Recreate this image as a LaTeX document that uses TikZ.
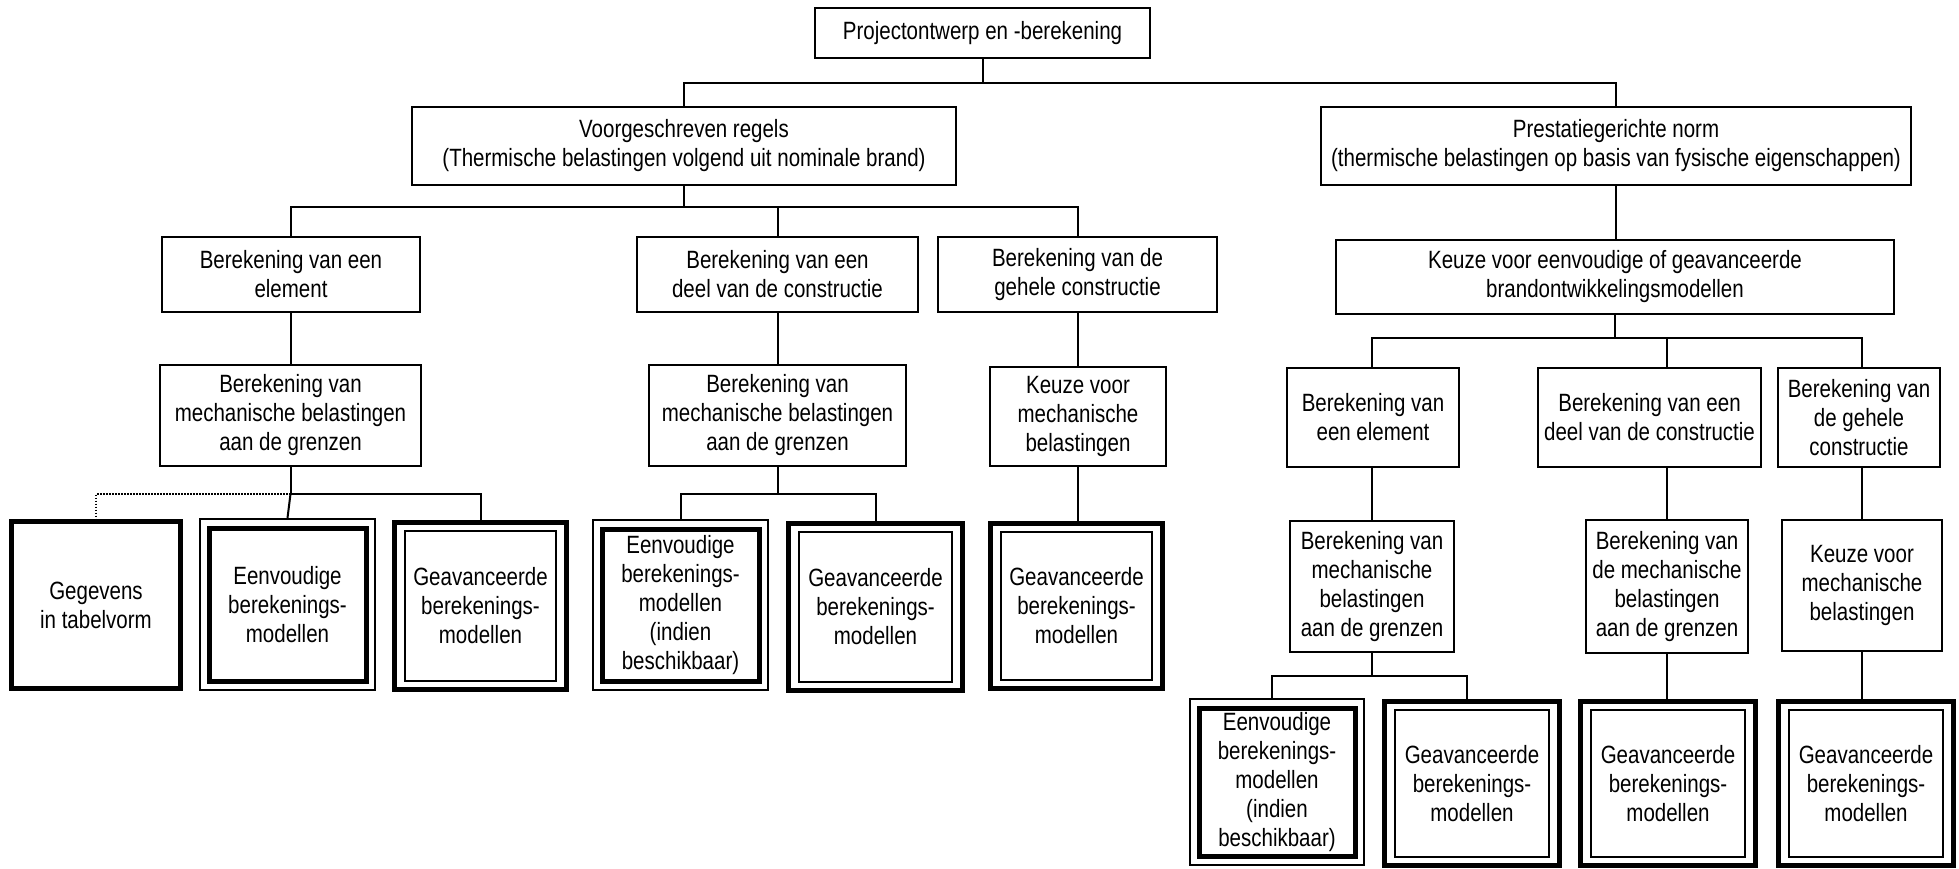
\documentclass[tikz,border=0pt]{standalone}
\usepackage{fontspec}
\setmainfont{Liberation Sans}[FakeStretch=0.82]
\begin{document}
\begin{tikzpicture}[x=1pt,y=-1pt,
  every node/.style={font=\fontsize{25}{29}\selectfont, align=center, inner sep=0pt},
  bb/.style args={#1/#2/#3/#4}{at={({(#1+#3)/2},{(#2+#4)/2})}, minimum width={(#3-#1)*1pt}, minimum height={(#4-#2)*1pt}},
  thinbox/.style={draw, rectangle, line width=2pt},
  heavybox/.style={draw, rectangle, line width=5pt},
  boxA/.style={draw, rectangle, line width=2pt,
    path picture={\draw[line width=5pt] ([shift={(9pt,-9pt)}]path picture bounding box.north west) rectangle ([shift={(-9pt,9pt)}]path picture bounding box.south east);}},
  boxB/.style={draw, rectangle, line width=5pt,
    path picture={\draw[line width=2pt] ([shift={(10.5pt,-8.5pt)}]path picture bounding box.north west) rectangle ([shift={(-10.5pt,8.5pt)}]path picture bounding box.south east);}},
  conn/.style={line width=2pt},
  dotconn/.style={line width=1.5pt, dash pattern=on 1.5pt off 1.5pt}
]
\fill[white] (0,0) rectangle (1959,869);
\useasboundingbox (0,0) rectangle (1959,869);

% top levels
\node[thinbox, bb=815/8/1150/58] (top) {Projectontwerp en -berekening};
\node[thinbox, bb=412/107/956/185] (vg) {Voorgeschreven regels\\(Thermische belastingen volgend uit nominale brand)};
\node[thinbox, bb=1321/107/1911/185] (pg) {Prestatiegerichte norm\\(thermische belastingen op basis van fysische eigenschappen)};

% left branch
\node[thinbox, bb=162/237/420/312] (l3a) {Berekening van een\\element};
\node[thinbox, bb=637/237/918/312] (l3b) {Berekening van een\\deel van de constructie};
\node[thinbox, bb=938/237/1217/312] (l3c) {Berekening van de\\gehele constructie};
\node[thinbox, bb=160/365/421/466] (l4a) {Berekening van\\mechanische belastingen\\aan de grenzen};
\node[thinbox, bb=649/365/906/466] (l4b) {Berekening van\\mechanische belastingen\\aan de grenzen};
\node[thinbox, bb=990/367/1166/466] (l4c) {Keuze voor\\mechanische\\belastingen};
\node[heavybox, bb=11.5/521.5/180.5/688.5] (gg) {Gegevens\\in tabelvorm};
\node[boxA, bb=200/519/375/690] (a1) {Eenvoudige\\berekenings-\\modellen};
\node[boxB, bb=394.5/522.5/566.5/689.5] (b1) {Geavanceerde\\berekenings-\\modellen};
\node[boxA, bb=593/520/768/690] (a2) {Eenvoudige\\berekenings-\\modellen\\(indien\\beschikbaar)};
\node[boxB, bb=788.5/523.5/962.5/690.5] (b2) {Geavanceerde\\berekenings-\\modellen};
\node[boxB, bb=990.5/523.5/1162.5/688.5] (b3) {Geavanceerde\\berekenings-\\modellen};

% right branch
\node[thinbox, bb=1336/240/1894/314] (r2) {Keuze voor eenvoudige of geavanceerde\\brandontwikkelingsmodellen};
\node[thinbox, bb=1287/368/1459/467] (r3a) {Berekening van\\een element};
\node[thinbox, bb=1538/368/1761/467] (r3b) {Berekening van een\\deel van de constructie};
\node[thinbox, bb=1778/368/1940/467] (r3c) {Berekening van\\de gehele\\constructie};
\node[thinbox, bb=1290/521/1454/652] (r4a) {Berekening van\\mechanische\\belastingen\\aan de grenzen};
\node[thinbox, bb=1586/520/1748/653] (r4b) {Berekening van\\de mechanische\\belastingen\\aan de grenzen};
\node[thinbox, bb=1782/520/1942/651] (r4c) {Keuze voor\\mechanische\\belastingen};
\node[boxA, bb=1190/699/1364/865] (a3) {Eenvoudige\\berekenings-\\modellen\\(indien\\beschikbaar)};
\node[boxB, bb=1384.5/701.5/1559.5/865.5] (b4) {Geavanceerde\\berekenings-\\modellen};
\node[boxB, bb=1580.5/701.5/1755.5/865.5] (b5) {Geavanceerde\\berekenings-\\modellen};
\node[boxB, bb=1778.5/701.5/1953.5/865.5] (b6) {Geavanceerde\\berekenings-\\modellen};

% junction levels
\coordinate (j0) at (0,83);
\coordinate (j1) at (0,207);
\coordinate (j2) at (0,494);
\coordinate (j3) at (0,338);
\coordinate (j4) at (0,676);

% connectors top
\draw[conn] (top.south) -- (top.south |- j0);
\draw[conn] (vg.north) |- (pg.north |- j0) -- (pg.north);

% left connectors
\draw[conn] (vg.south) -- (vg.south |- j1);
\draw[conn] (l3a.north) |- (l3c.north |- j1) -- (l3c.north);
\draw[conn] (l3b.north) -- (l3b.north |- j1);
\draw[conn] (l3a.south) -- (l3a.south |- l4a.north);
\draw[conn] (l3b.south) -- (l3b.south |- l4b.north);
\draw[conn] (l3c.south) -- (l3c.south |- l4c.north);
\draw[conn] (l4a.south) -- (l4a.south |- j2) -| (b1.north);
\draw[conn] (l4a.south |- j2) -- (a1.north);
\draw[dotconn] (l4a.south |- j2) -| (gg.north);
\draw[conn] (l4b.south) -- (l4b.south |- j2);
\draw[conn] (a2.north) |- (b2.north |- j2) -- (b2.north);
\draw[conn] (l4c.south) -- (l4c.south |- b3.north);

% right connectors
\draw[conn] (pg.south) -- (pg.south |- r2.north);
\draw[conn] (r2.south) -- (r2.south |- j3);
\draw[conn] (r4a.north |- r3a.north) |- (r4c.north |- j3) -- (r4c.north |- r3c.north);
\draw[conn] (r4b.north |- j3) -- (r4b.north |- r3b.north);
\draw[conn] (r4a.north |- r3a.south) -- (r4a.north);
\draw[conn] (r4b.north |- r3b.south) -- (r4b.north);
\draw[conn] (r4c.north |- r3c.south) -- (r4c.north);
\draw[conn] (r4a.south) -- (r4a.south |- j4);
\draw[conn] ([xshift=-5pt]a3.north) |- ([xshift=-5pt]b4.north |- j4) -- ([xshift=-5pt]b4.north);
\draw[conn] (r4b.south) -- (r4b.south |- b5.north);
\draw[conn] (r4c.south) -- (r4c.south |- b6.north);
\end{tikzpicture}
\end{document}
